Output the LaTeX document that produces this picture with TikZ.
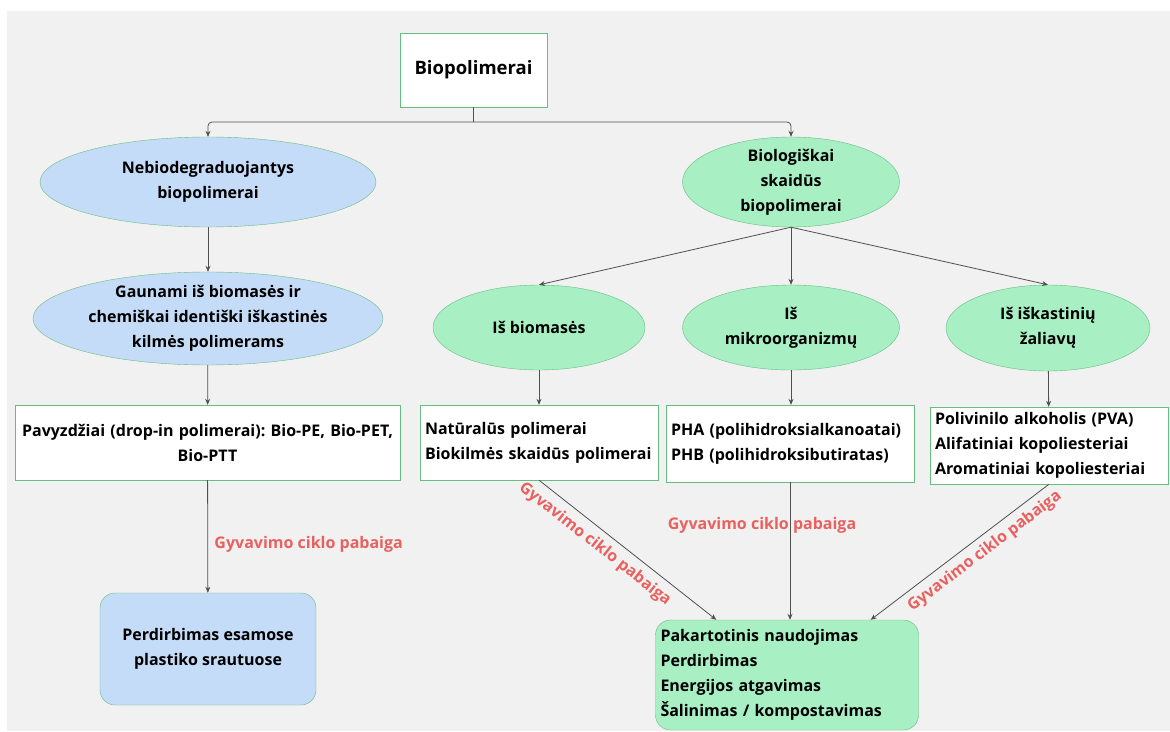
\documentclass[tikz,border=0pt]{standalone}
\usepackage{fontspec}
\setmainfont{Open Sans}
\usetikzlibrary{arrows.meta,positioning,shapes.geometric}
\definecolor{fonas}{RGB}{241,241,241}
\definecolor{melyna}{RGB}{197,220,248}
\definecolor{zalia}{RGB}{168,240,196}
\definecolor{kontur}{RGB}{100,190,130}
\definecolor{linija}{RGB}{80,80,80}
\definecolor{raudona}{RGB}{232,97,95}
\frenchspacing
\tikzset{
  txt/.style={font=\fontsize{16}{25}\selectfont\bfseries},
  elip/.style={ellipse,draw=kontur,fill=zalia,txt,align=center,inner sep=0pt},
  deze/.style={draw=kontur,fill=white,txt,inner xsep=5pt,inner ysep=0pt},
  galas/.style={draw=kontur,rounded corners=15pt,txt,inner xsep=5pt,inner ysep=0pt},
  rodykle/.style={-{Stealth[length=6pt,width=5pt]},linija,line width=0.8pt},
  ciklas/.style={font=\fontsize{16}{18}\selectfont\bfseries,text=raudona},
}
\begin{document}
\begin{tikzpicture}[x=1pt,y=-1pt]
  \useasboundingbox (0,0) rectangle (1170,731);
  \fill[white] (0,0) rectangle (1170,731);
  \fill[fonas] (7,11) rectangle (1170,731);
  % virsus
  \node[deze,minimum width=147pt,minimum height=74pt,font=\fontsize{18.5}{22}\selectfont\bfseries] (top) at (473.5,70) {Biopolimerai};
  \coordinate (split) at (473.5,122);
  % kaire saka
  \node[elip,fill=melyna,minimum width=336pt,minimum height=90pt,inner ysep=-4pt] (nebio) at (208,182) {Nebiodegraduojantys\\biopolimerai};
  \node[elip,fill=melyna,minimum width=350pt,minimum height=93pt,inner ysep=-12pt,inner xsep=-8pt] (gaun) at (208,318.5) {Gaunami iš biomasės ir\\chemiškai identiški iškastinės\\kilmės polimerams};
  \node[deze,text width=375pt,align=center,minimum height=75pt] (pavyz) at (207.5,442.5) {Pavyzdžiai (drop-in polimerai): Bio-PE, Bio-PET,\\Bio-PTT};
  \node[galas,fill=melyna,minimum width=216pt,minimum height=112pt,align=center] (perd) at (208,649) {Perdirbimas esamose\\plastiko srautuose};
  % desine saka
  \node[elip,minimum width=217pt,minimum height=90pt,inner ysep=-12pt] (bio) at (791,182) {Biologiškai\\skaidūs\\biopolimerai};
  \node[elip,minimum width=212pt,minimum height=85pt] (isbiom) at (539,327.5) {Iš biomasės};
  \node[elip,minimum width=217pt,minimum height=85pt,inner ysep=-4pt] (ismikro) at (791,327.5) {Iš\\mikroorganizmų};
  \node[elip,minimum width=204pt,minimum height=86pt,inner ysep=-4pt] (isiskast) at (1048,328) {Iš iškastinių\\žaliavų};
  \node[deze,text width=228pt,align=left,minimum height=75pt] (natur) at (539,442.5) {Natūralūs polimerai\\Biokilmės skaidūs polimerai};
  \node[deze,text width=238pt,align=left,minimum height=77pt] (pha) at (790,443.5) {PHA (polihidroksialkanoatai)\\PHB (polihidroksibutiratas)};
  \node[deze,text width=228pt,align=left,minimum height=77pt] (pva) at (1049,445.5) {Polivinilo alkoholis (PVA)\\Alifatiniai kopoliesteriai\\Aromatiniai kopoliesteriai};
  \node[galas,fill=zalia,text width=253pt,align=left,minimum height=110pt] (pakart) at (787,675) {Pakartotinis naudojimas\\Perdirbimas\\Energijos atgavimas\\Šalinimas / kompostavimas};
  % jungtys
  \draw[linija,line width=0.8pt] (top.south) -- (split);
  \draw[rodykle,rounded corners=4pt] (split) -| (nebio.north);
  \draw[rodykle,rounded corners=4pt] (split) -| (bio.north);
  \draw[rodykle] (nebio) -- (gaun);
  \draw[rodykle] (gaun) -- (pavyz);
  \draw[rodykle] (pavyz) -- node[ciklas,right=3pt,pos=0.57] (lab1) {Gyvavimo ciklo pabaiga} (perd);
  \draw[rodykle] (bio.south) -- (isbiom.north);
  \draw[rodykle] (bio.south) -- (ismikro.north);
  \draw[rodykle] (bio.south) -- (isiskast.north);
  \draw[rodykle] (isbiom) -- (natur);
  \draw[rodykle] (ismikro.south) -- (ismikro.south |- pha.north);
  \draw[rodykle] (isiskast) -- (pva);
  \draw[rodykle] (natur.south) -- node[ciklas,sloped,below=4pt,pos=0.37] (lab2) {Gyvavimo ciklo pabaiga} ([xshift=61pt]pakart.north west);
  \draw[rodykle] (pha.south) -- node[ciklas,pos=0.31,xshift=-28pt] (lab3) {Gyvavimo ciklo pabaiga} (pha.south |- pakart.north);
  \draw[rodykle] (pva.south) -- node[ciklas,sloped,below=3pt,pos=0.41] (lab4) {Gyvavimo ciklo pabaiga} ([xshift=-48pt]pakart.north east);
\end{tikzpicture}
\end{document}
